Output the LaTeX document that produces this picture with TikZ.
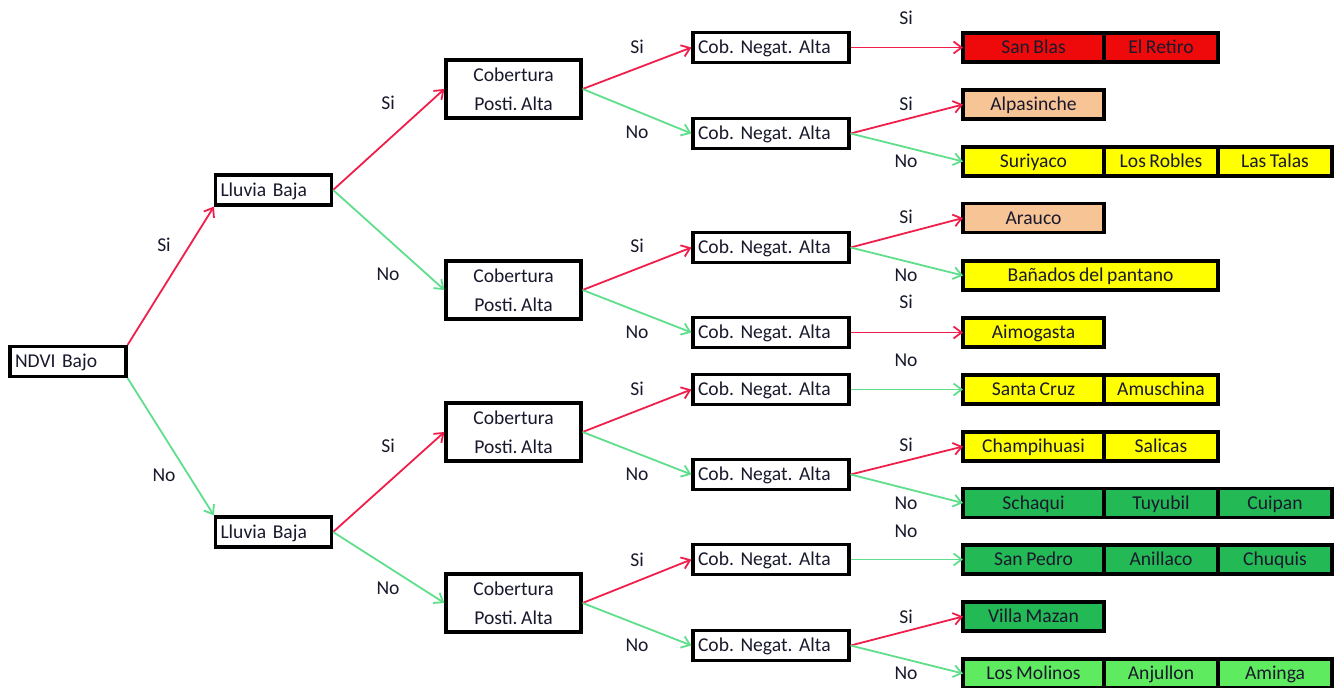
\documentclass[tikz,border=0pt]{standalone}
\usepackage{fontspec}
\setmainfont{Carlito}[WordSpace=0.8]
\usepackage{tikz}
\usetikzlibrary{arrows.meta,positioning}
\definecolor{siRed}{RGB}{240,30,75}
\definecolor{noGreen}{RGB}{95,222,140}
\definecolor{txtDark}{RGB}{25,25,45}
\definecolor{lvRed}{RGB}{238,10,10}
\definecolor{lvSalmon}{RGB}{247,196,150}
\definecolor{lvYellow}{RGB}{255,255,0}
\definecolor{lvGreen}{RGB}{35,185,85}
\definecolor{lvLight}{RGB}{95,235,95}
\frenchspacing
\tikzset{
  tree/font/.style={font=\fontsize{9.8}{14.5}\selectfont, text=txtDark},
  tree/cond/.style={tree/font, draw, line width=1.6pt, fill=white, minimum height=15pt, inner xsep=2.5pt, inner ysep=0pt, text width=53pt, text height=8.2pt, text depth=2pt, align=left},
  tree/cover/.style={tree/font, draw, line width=1.6pt, fill=white, minimum width=67.5pt, minimum height=29pt, inner sep=0pt, align=center},
  tree/neg/.style={tree/cond, text width=73pt},
  tree/leaf/.style={tree/font, draw, line width=1.6pt, outer sep=0pt, minimum height=14.5pt, inner sep=0pt, text height=8.2pt, text depth=2pt, minimum width=57pt, align=center},
  tree/leafw/.style={tree/leaf, minimum width=70.5pt},
  tree/lab/.style={tree/font, inner sep=1pt},
  tree/si/.style={siRed, line width=0.9pt, -{Straight Barb[length=4pt,width=6pt]}},
  tree/no/.style={noGreen, line width=0.9pt, -{Straight Barb[length=4pt,width=6pt]}}
}

\begin{document}
\begin{tikzpicture}[x=0.5pt, y=-0.5pt]
  \useasboundingbox (0,0) rectangle (1336,688);

  % first split
  \node[tree/cond] (ndvi) at (68,361.5) {NDVI Bajo};
  \node[tree/cond] (rainA) at (273.5,190) {Lluvia Baja};
  \node[tree/cond] (rainB) at (273.5,532) {Lluvia Baja};

  % cover
  \node[tree/cover] (covA) at (513.5,89) {Cobertura\\Posti. Alta};
  \node[tree/cover] (covB) at (513.5,290) {Cobertura\\Posti. Alta};
  \node[tree/cover] (covC) at (513.5,432) {Cobertura\\Posti. Alta};
  \node[tree/cover] (covD) at (513.5,603) {Cobertura\\Posti. Alta};

  % negative cover
  \foreach \y [count=\i] in {47.5,133.5,247.5,332.5,389.5,474.5,559.5,645.5}
    \node[tree/neg] (neg\i) at (771,\y) {Cob. Negat. Alta};

  % leaves
  \node[tree/leafw, fill=lvRed] (l1a) at (1033.5,47.5) {San Blas};
  \node[tree/leaf, fill=lvRed, right=0pt of l1a] (l1b) {El Retiro};
  \node[tree/leafw, fill=lvSalmon] (l2a) at (1033.5,104.5) {Alpasinche};
  \node[tree/leafw, fill=lvYellow] (l3a) at (1033.5,161.5) {Suriyaco};
  \node[tree/leaf, fill=lvYellow, right=0pt of l3a] (l3b) {Los Robles};
  \node[tree/leaf, fill=lvYellow, right=0pt of l3b] (l3c) {Las Talas};
  \node[tree/leafw, fill=lvSalmon] (l4a) at (1033.5,218) {Arauco};
  \node[tree/leaf, fill=lvYellow, minimum width=127.5pt] (l5a) at (1090.5,275.5) {Bañados del pantano};
  \node[tree/leafw, fill=lvYellow] (l6a) at (1033.5,332.5) {Aimogasta};
  \node[tree/leafw, fill=lvYellow] (l7a) at (1033.5,389.5) {Santa Cruz};
  \node[tree/leaf, fill=lvYellow, right=0pt of l7a] (l7b) {Amuschina};
  \node[tree/leafw, fill=lvYellow] (l8a) at (1033.5,446.5) {Champihuasi};
  \node[tree/leaf, fill=lvYellow, right=0pt of l8a] (l8b) {Salicas};
  \node[tree/leafw, fill=lvGreen] (l9a) at (1033.5,503) {Schaqui};
  \node[tree/leaf, fill=lvGreen, right=0pt of l9a] (l9b) {Tuyubil};
  \node[tree/leaf, fill=lvGreen, right=0pt of l9b] (l9c) {Cuipan};
  \node[tree/leafw, fill=lvGreen] (l10a) at (1033.5,559.5) {San Pedro};
  \node[tree/leaf, fill=lvGreen, right=0pt of l10a] (l10b) {Anillaco};
  \node[tree/leaf, fill=lvGreen, right=0pt of l10b] (l10c) {Chuquis};
  \node[tree/leafw, fill=lvGreen] (l11a) at (1033.5,616.5) {Villa Mazan};
  \node[tree/leafw, fill=lvLight] (l12a) at (1033.5,673.5) {Los Molinos};
  \node[tree/leaf, fill=lvLight, right=0pt of l12a] (l12b) {Anjullon};
  \node[tree/leaf, fill=lvLight, right=0pt of l12b] (l12c) {Aminga};

  % arrows
  \draw[tree/si] (ndvi.north east) -- (rainA.south west);
  \draw[tree/no] (ndvi.south east) -- (rainB.north west);
  \draw[tree/si] (rainA.east) -- (covA.west);
  \draw[tree/no] (rainA.east) -- (covB.west);
  \draw[tree/si] (rainB.east) -- (covC.west);
  \draw[tree/no] (rainB.east) -- (covD.west);
  \foreach \c/\a/\b in {covA/neg1/neg2, covB/neg3/neg4, covC/neg5/neg6, covD/neg7/neg8} {
    \draw[tree/si] (\c.east) -- (\a.west);
    \draw[tree/no] (\c.east) -- (\b.west);
  }
  \draw[tree/si] (neg1.east) -- (l1a.west);
  \draw[tree/si] (neg2.east) -- (l2a.west);
  \draw[tree/no] (neg2.east) -- (l3a.west);
  \draw[tree/si] (neg3.east) -- (l4a.west);
  \draw[tree/no] (neg3.east) -- (l5a.west);
  \draw[tree/si] (neg4.east) -- (l6a.west);
  \draw[tree/no] (neg5.east) -- (l7a.west);
  \draw[tree/si] (neg6.east) -- (l8a.west);
  \draw[tree/no] (neg6.east) -- (l9a.west);
  \draw[tree/no] (neg7.east) -- (l10a.west);
  \draw[tree/si] (neg8.east) -- (l11a.west);
  \draw[tree/no] (neg8.east) -- (l12a.west);

  % Si / No labels
  \foreach \x/\y/\t [count=\i] in {164/245/Si, 164/475/No,
      388/103/Si, 388/274/No, 388/446/Si, 388/588/No,
      637/47/Si, 637/132/No, 637/246/Si, 637/332/No,
      637/389/Si, 637/474/No, 637/560/Si, 637/645/No,
      906/18/Si, 906/104/Si, 906/161/No, 906/217/Si, 906/275/No, 906/302/Si,
      906/360/No, 906/445/Si, 906/503/No, 906/531/No, 906/617/Si, 906/673/No}
    \node[tree/lab] (lab\i) at (\x,\y) {\t};
\end{tikzpicture}
\end{document}
